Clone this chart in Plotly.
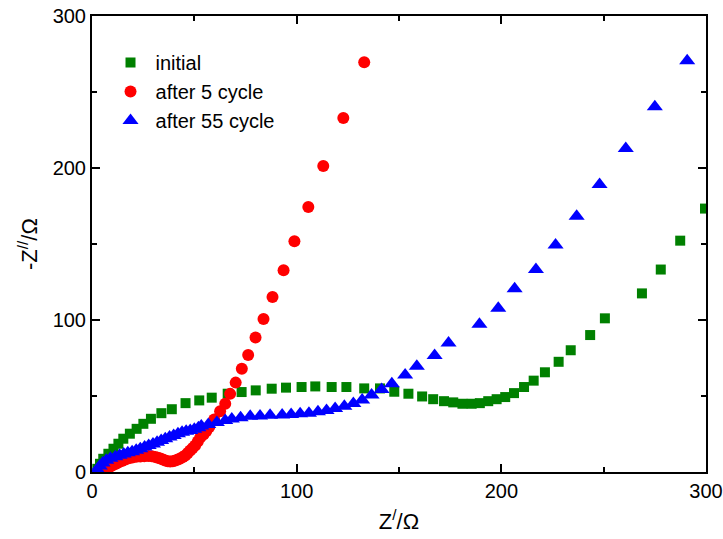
import plotly.graph_objects as go

# ---- data ----
initial_x = [2.6, 3.9, 5.5, 8.0, 10.5, 12.9, 15.3, 18.5, 21.8, 25.1, 28.8, 33.9, 39.0, 45.7, 52.4, 58.5,
             66.3, 73.1, 80.0, 87.8, 94.8, 102.4, 109.1, 117.1, 124.3, 133.0, 140.7, 147.7, 154.6, 161.3,
             166.7, 172.0, 176.5, 181.0, 185.5, 189.5, 193.6, 197.7, 201.9, 206.2, 211.1, 215.8, 221.3,
             228.0, 233.9, 243.4, 250.6, 268.7, 277.9, 287.4, 299.5]
initial_y = [2.1, 5.4, 8.7, 12.0, 15.3, 18.6, 21.9, 25.2, 28.4, 31.7, 35.0, 38.7, 41.3, 45.3, 47.1, 48.9,
             51.5, 52.6, 53.7, 54.8, 55.5, 55.9, 56.3, 55.9, 55.9, 55.0, 55.0, 52.8, 51.5, 49.7,
             47.9, 46.6, 45.8, 44.9, 44.9, 45.3, 46.6, 47.9, 49.3, 51.9, 55.9, 60.1, 65.6,
             72.5, 80.1, 90.1, 101.1, 117.5, 133.2, 152.2, 173.3]

cycle5_x = [4.1, 5.5, 7.0, 8.5, 9.9, 11.4, 12.9, 14.6, 16.3, 18.0, 19.7, 21.6, 23.6, 25.5, 27.5, 29.2,
            30.9, 32.2, 33.4, 34.6, 35.8, 37.0, 38.2, 39.5, 40.7, 42.0, 43.1, 44.4, 45.6, 46.8, 48.0,
            49.2, 50.4, 51.7, 52.9, 54.5, 55.9, 57.3, 59.7, 62.6, 65.1, 67.5, 70.2, 73.2, 76.3, 79.9,
            83.8, 88.2, 93.6, 98.9, 105.7, 113.0, 122.8, 133.0]
cycle5_y = [0.7, 1.5, 2.3, 3.3, 4.3, 5.3, 6.3, 7.3, 8.2, 9.0, 9.6, 10.0, 10.2, 10.4, 10.5, 10.3,
            9.9, 9.4, 8.9, 8.2, 7.6, 7.1, 6.9, 7.1, 7.6, 8.2, 8.9, 9.8, 10.9, 12.5, 14.2,
            15.8, 17.5, 20.0, 22.7, 24.7, 27.0, 29.6, 34.6, 39.9, 44.9, 51.4, 58.8, 67.9, 76.9, 88.5,
            100.7, 115.2, 132.7, 151.8, 174.4, 201.3, 232.9, 269.6]

cycle55_x = [2.6, 3.8, 5.2, 7.0, 9.0, 11.4, 13.5, 15.5, 17.5, 19.6, 21.6, 23.6, 25.7, 27.7, 29.8, 31.8,
             33.8, 35.8, 37.9, 39.9, 42.0, 44.0, 46.0, 48.0, 50.0, 52.0, 53.4, 56.8, 61.0, 65.1, 68.3,
             72.6, 77.3, 82.1, 87.0, 92.9, 97.3, 101.7, 106.0, 110.4, 114.6, 118.8, 123.3, 127.7, 132.0,
             136.6, 141.5, 146.5, 153.0, 158.7, 167.4, 174.2, 189.3, 198.5, 206.5, 216.9, 226.5, 236.8,
             248.0, 260.8, 275.0, 290.8]
cycle55_y = [1.5, 4.0, 6.0, 7.8, 9.0, 10.0, 11.0, 11.8, 12.6, 13.4, 14.3, 15.3, 16.4, 17.5, 18.5, 19.6,
             20.7, 21.9, 23.0, 24.0, 25.1, 26.2, 26.8, 27.3, 28.2, 29.1, 30.3, 31.3, 32.6, 33.9, 34.9,
             35.7, 36.6, 36.9, 37.4, 37.5, 37.9, 38.3, 38.7, 39.7, 40.5, 41.7, 43.3, 45.1, 47.4,
             50.6, 54.3, 58.1, 63.8, 69.5, 76.7, 84.8, 97.2, 107.8, 120.6, 133.2, 149.4, 168.3,
             189.2, 212.9, 240.3, 270.6]

series_names = ["initial", "after 5 cycle", "after 55 cycle"]
x_ticks = [0, 100, 200, 300]
y_ticks = [0, 100, 200, 300]

FONT = "Liberation Sans, Arial, sans-serif"

fig = go.Figure()
fig.add_trace(go.Scatter(x=initial_x, y=initial_y, mode="markers", name=series_names[0],
                         marker=dict(symbol="square", size=10, color="#008000", line=dict(width=0))))
fig.add_trace(go.Scatter(x=cycle5_x, y=cycle5_y, mode="markers", name=series_names[1],
                         marker=dict(symbol="circle", size=12, color="#FF0000", line=dict(width=0))))
fig.add_trace(go.Scatter(x=cycle55_x, y=cycle55_y, mode="markers", name=series_names[2],
                         marker=dict(symbol="triangle-up", size=14, color="#0000FF", line=dict(width=0))))

axis_common = dict(
    showgrid=False, zeroline=False, showline=True, linecolor="black", linewidth=2,
    mirror="allticks", ticks="inside", ticklen=8, tickwidth=1.5, tickcolor="black",
    tickfont=dict(family=FONT, size=20, color="black"),
    minor=dict(ticks="inside", ticklen=5, tickwidth=1.5, tickcolor="black", dtick=50),
    automargin=False,
)

fig.update_xaxes(range=[0, 300], tickvals=x_ticks, **axis_common,
                 title=dict(text="Z<sup>/</sup>/Ω", font=dict(family=FONT, size=22, color="black"), standoff=13))
fig.update_yaxes(range=[0, 300], tickvals=y_ticks, **axis_common,
                 title=dict(text="-Z<sup>//</sup>/Ω", font=dict(family=FONT, size=22, color="black"), standoff=9))

fig.update_layout(
    width=723, height=539,
    margin=dict(l=92, r=17, t=16, b=67, autoexpand=False),
    paper_bgcolor="white", plot_bgcolor="white",
    showlegend=True,
    legend=dict(x=0.022, y=0.941, xanchor="left", yanchor="top", bgcolor="rgba(0,0,0,0)",
                font=dict(family=FONT, size=20, color="black"), itemsizing="trace",
                itemwidth=40, tracegroupgap=0),
)

fig.write_html("out.html", config={"displayModeBar": False},
               post_script="document.body.style.margin='0';document.body.style.padding='0';")
